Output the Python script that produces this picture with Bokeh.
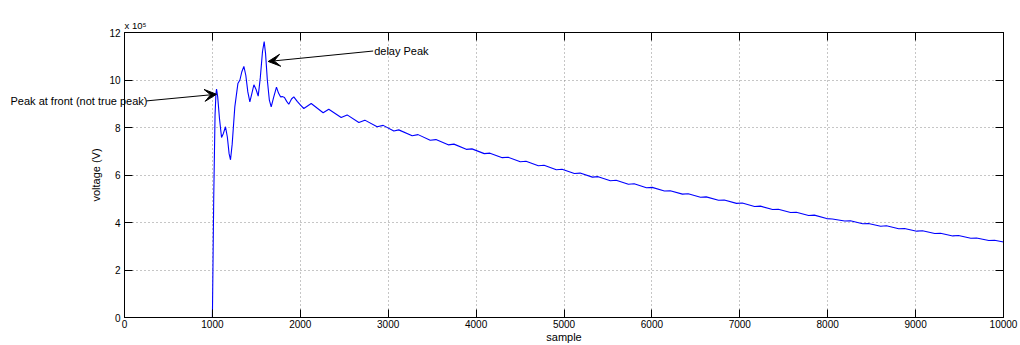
from bokeh.plotting import figure
from bokeh.models import (Range1d, LinearAxis, Label, Arrow, VeeHead, FixedTicker,
                          ColumnDataSource)
from bokeh.embed import file_html
from bokeh.resources import INLINE

# ---- data (voltage in units of 1e5 V) ----
samples = [0, 1000, 1015, 1030, 1040, 1047, 1060, 1080, 1104, 1125, 1149, 1170, 1190, 1206,
           1225, 1255, 1290, 1313, 1335, 1358, 1380, 1403, 1426, 1450, 1472, 1497, 1521,
           1545, 1570, 1589, 1605, 1625, 1648, 1669, 1695, 1729, 1752, 1775, 1800, 1820,
           1845, 1869, 1900, 1926, 1965, 2000,
           2040, 2124, 2260, 2324, 2465, 2533, 2666, 2734, 2874, 2943, 3064, 3120, 3273, 3340,
           3478, 3543, 3683, 3748, 3888, 3953, 4093, 4158, 4298, 4363, 4503, 4568, 4708, 4773,
           4913, 4978, 5118, 5183, 5323, 5388, 5528, 5593, 5733, 5798, 5938, 6003, 6143, 6208,
           6348, 6413, 6553, 6618, 6758, 6823, 6963, 7028, 7168, 7233, 7373, 7438, 7578, 7643,
           7783, 7848, 7988, 8053, 8193, 8258, 8398, 8463, 8603, 8668, 8808, 8873, 9013, 9078,
           9218, 9283, 9423, 9488, 9628, 9693, 9833, 9898, 10000]
voltage = [0.0, 0.0, 5.0, 8.5, 9.4, 9.62, 9.3, 8.4, 7.58, 7.75, 8.03, 7.6, 6.9, 6.64,
           7.3, 8.87, 9.85, 10.0, 10.35, 10.57, 10.2, 9.5, 9.08, 9.45, 9.8, 9.6, 9.32,
           10.1, 11.2, 11.62, 11.1, 10.0, 9.15, 8.87, 9.25, 9.70, 9.45, 9.29, 9.30, 9.26,
           9.10, 8.98, 9.20, 9.29, 9.10, 8.95,
           8.80, 9.01, 8.62, 8.77, 8.42, 8.53, 8.21, 8.31, 8.03, 8.09, 7.85, 7.90, 7.65, 7.70,
           7.46, 7.49, 7.27, 7.30, 7.08, 7.10, 6.90, 6.92, 6.73, 6.75, 6.56, 6.58, 6.39, 6.41,
           6.22, 6.24, 6.06, 6.08, 5.91, 5.93, 5.76, 5.78, 5.61, 5.63, 5.46, 5.48, 5.325, 5.34,
           5.195, 5.21, 5.065, 5.08, 4.935, 4.95, 4.805, 4.82, 4.675, 4.69, 4.55, 4.56, 4.42, 4.43,
           4.295, 4.31, 4.165, 4.15, 4.06, 4.07, 3.95, 3.96, 3.845, 3.86, 3.74, 3.75, 3.635, 3.65,
           3.535, 3.55, 3.435, 3.45, 3.34, 3.35, 3.24, 3.25, 3.18]

x_ticks = [0, 1000, 2000, 3000, 4000, 5000, 6000, 7000, 8000, 9000, 10000]
y_ticks = [0, 2, 4, 6, 8, 10, 12]

FONT = "Liberation Sans"

p = figure(width=1020, height=345, output_backend="svg", toolbar_location=None,
           x_range=Range1d(0, 10000), y_range=Range1d(0, 12),
           min_border_left=124, min_border_right=17, min_border_top=32, min_border_bottom=27,
           background_fill_color="white", border_fill_color="white", outline_line_color="black",
           outline_line_width=1)

src = ColumnDataSource(dict(x=samples, y=voltage))
p.line("x", "y", source=src, line_color="#0000ff", line_width=1.1)

# axes styling
for ax in (p.xaxis[0], p.yaxis[0]):
    ax.major_tick_in = 8
    ax.major_tick_out = 0
    ax.minor_tick_in = 0
    ax.minor_tick_out = 0
    ax.axis_line_color = "black"
    ax.major_tick_line_color = "black"
    ax.major_label_text_font = FONT
    ax.major_label_text_font_size = "10px"
    ax.major_label_text_color = "black"
    ax.axis_label_text_font = FONT
    ax.axis_label_text_font_size = "11px"
    ax.axis_label_text_font_style = "normal"
    ax.axis_label_text_color = "black"

p.xaxis[0].ticker = FixedTicker(ticks=x_ticks)
p.yaxis[0].ticker = FixedTicker(ticks=y_ticks)
p.xaxis[0].major_label_standoff = 2
p.yaxis[0].major_label_standoff = 4
p.xaxis[0].axis_label = "sample"
p.xaxis[0].axis_label_standoff = 0
p.yaxis[0].axis_label = "voltage (V)"
p.yaxis[0].axis_label_standoff = 4

# mirrored ticks on top and right (no labels)
for loc, tick in (("right", y_ticks), ("above", x_ticks)):
    ax = LinearAxis(ticker=FixedTicker(ticks=tick))
    ax.major_tick_in = 8
    ax.major_tick_out = 0
    ax.minor_tick_in = 0
    ax.minor_tick_out = 0
    ax.major_label_text_color = None
    ax.major_label_text_font_size = "1px"
    ax.major_label_standoff = 0
    ax.axis_line_color = "black"
    ax.major_tick_line_color = "black"
    p.add_layout(ax, loc)

# grid
for g in (p.xgrid[0], p.ygrid[0]):
    g.grid_line_color = "#8c8c8c"
    g.grid_line_dash = "1 3"
    g.grid_line_width = 1
p.xgrid[0].ticker = FixedTicker(ticks=x_ticks)
p.ygrid[0].ticker = FixedTicker(ticks=y_ticks)

# exponent label (placed in a side panel so it is not clipped by the frame)
p.add_layout(Label(x=0, y=12.3, text="x 10\u2075", text_font=FONT, text_font_size="9.5px",
                   text_baseline="middle", text_align="left", text_color="black"), "above")

# annotations
i_front = 5
i_delay = voltage.index(max(voltage))
front_tip = (samples[i_front], voltage[i_front] - 0.22)
front_tail = (250, 9.12)
delay_tip = (samples[i_delay] + 46, voltage[i_delay] - 0.84)
delay_tail = (2829, 11.22)

for tip, tail in ((front_tip, front_tail), (delay_tip, delay_tail)):
    p.add_layout(Arrow(x_start=tail[0], y_start=tail[1], x_end=tip[0], y_end=tip[1],
                       line_color="black", line_width=1,
                       end=VeeHead(size=12, fill_color="black", line_color="black")))

p.add_layout(Label(x=front_tail[0], y=front_tail[1], text="Peak at front (not true peak)",
                   text_font=FONT, text_font_size="11px", text_align="right",
                   text_baseline="middle", text_color="black", x_offset=1), "above")
p.add_layout(Label(x=delay_tail[0], y=delay_tail[1], text="delay Peak",
                   text_font=FONT, text_font_size="11px", text_align="left",
                   text_baseline="middle", text_color="black", x_offset=1))

open("out.html", "w").write(file_html(p, INLINE))
